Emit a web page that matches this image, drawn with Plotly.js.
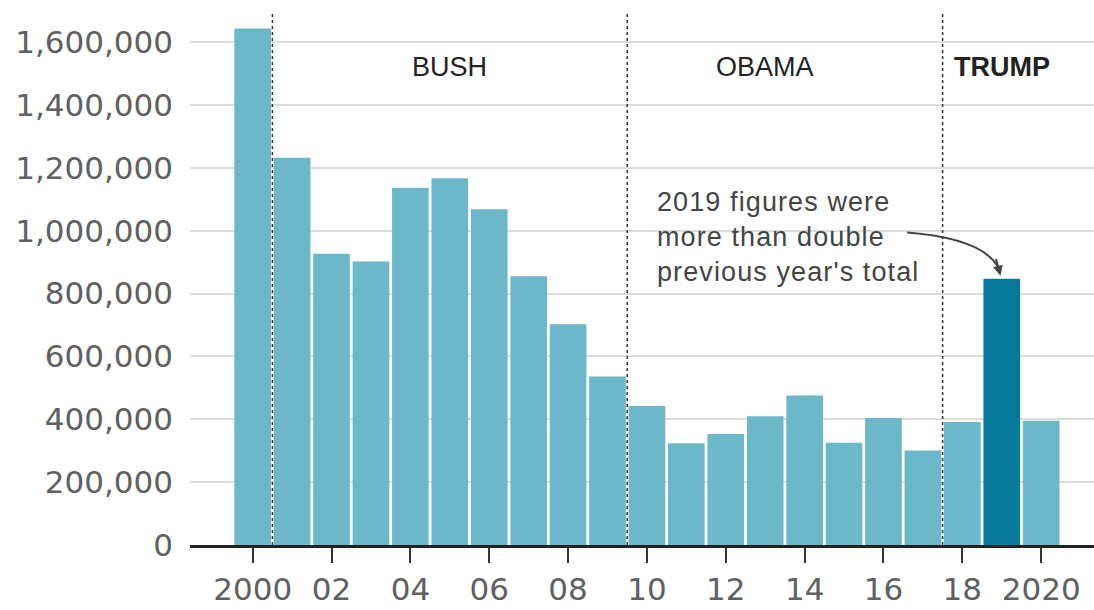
<!DOCTYPE html>
<html>
<head>
<meta charset="utf-8">
<script src="https://cdn.plot.ly/plotly-3.0.1.min.js"></script>
<style>
html,body{margin:0;padding:0;background:#fff;}
#chart{width:1094px;height:610px;}
g.annotation[data-index="3"] text{letter-spacing:1.1px;}
</style>
</head>
<body>
<div id="chart"></div>
<script>
// Data
const years = [2000,2001,2002,2003,2004,2005,2006,2007,2008,2009,2010,2011,2012,2013,2014,2015,2016,2017,2018,2019,2020];
const values = [1643000,1232000,927000,902000,1137000,1167000,1068000,855000,702000,536000,442000,324000,353000,410000,476000,325000,404000,301000,391000,847000,395000];
const highlightYear = 2019;
const tickVals = [2000,2002,2004,2006,2008,2010,2012,2014,2016,2018,2020];
const tickText = ['2000','02','04','06','08','10','12','14','16','18','2020'];
const presidents = ['BUSH','OBAMA','TRUMP'];
const presidentMid = [2005,2013,2019];
const termBreaks = [2000.5,2009.5,2017.5];
const noteText = "2019 figures were<br>more than double<br>previous year's total";

const lightColor = '#6cb8c8';
const darkColor = '#08789a';
const colors = years.map(y => y === highlightYear ? darkColor : lightColor);

const trace = {
  type: 'bar',
  x: years,
  y: values,
  marker: {color: colors, line: {width: 0}},
  hoverinfo: 'x+y'
};

const hlIdx = years.indexOf(highlightYear);
const hlVal = values[hlIdx];

const shapes = termBreaks.map(x => ({
  type: 'line', xref: 'x', yref: 'y',
  x0: x, x1: x, y0: 0, y1: 1690000,
  line: {color: '#333', width: 1.5, dash: 'dot'},
  layer: 'above'
}));
// curved arrow body from the note to the highlighted bar
shapes.push({
  type: 'path', xref: 'x', yref: 'y',
  path: 'M 2016.6,994000 Q 2018.55,975000 2018.92,880000',
  line: {color: '#444', width: 2},
  layer: 'above'
});

const annotations = presidents.map((p, i) => ({
  x: presidentMid[i], y: 1522000, xref: 'x', yref: 'y',
  text: p === 'TRUMP' ? '<b>' + p + '</b>' : p,
  showarrow: false,
  font: {family: 'Liberation Sans, Arial, sans-serif', size: 27, color: '#222'},
  xanchor: 'center', yanchor: 'middle'
}));
annotations.push({
  x: 2010.21, y: 1147000, xref: 'x', yref: 'y',
  text: noteText, showarrow: false, align: 'left',
  xanchor: 'left', yanchor: 'top',
  font: {family: 'Liberation Sans, Arial, sans-serif', size: 27, color: '#444'}
});
annotations.push({
  x: highlightYear - 0.03, y: hlVal + 10000, xref: 'x', yref: 'y',
  text: '', showarrow: true, arrowhead: 2, arrowsize: 1, arrowwidth: 2,
  arrowcolor: '#444', ax: -5, ay: -18
});

const layout = {
  width: 1094, height: 610,
  margin: {l: 190, r: 0, t: 0, b: 65},
  paper_bgcolor: '#fff', plot_bgcolor: '#fff',
  bargap: 0.07,
  showlegend: false,
  font: {family: 'DejaVu Sans, sans-serif', color: '#606060'},
  xaxis: {
    range: [1998.41, 2021.34],
    tickmode: 'array', tickvals: tickVals, ticktext: tickText,
    ticks: 'outside', ticklen: 15, tickwidth: 2, tickcolor: '#333',
    showline: true, linecolor: '#222', linewidth: 3,
    showgrid: false, zeroline: false,
    tickfont: {family: 'DejaVu Sans, sans-serif', size: 31, color: '#606060'}
  },
  yaxis: {
    range: [0, 1734000],
    tickmode: 'array', tickvals: [0,200000,400000,600000,800000,1000000,1200000,1400000,1600000],
    tickformat: ',d',
    showgrid: true, gridcolor: '#dcdcdc', gridwidth: 2,
    zeroline: false, showline: false, ticks: '',
    ticklabelstandoff: 16,
    tickfont: {family: 'DejaVu Sans, sans-serif', size: 31, color: '#606060'}
  },
  shapes: shapes,
  annotations: annotations
};

Plotly.newPlot('chart', [trace], layout, {displayModeBar: false, staticPlot: true});
</script>
</body>
</html>
